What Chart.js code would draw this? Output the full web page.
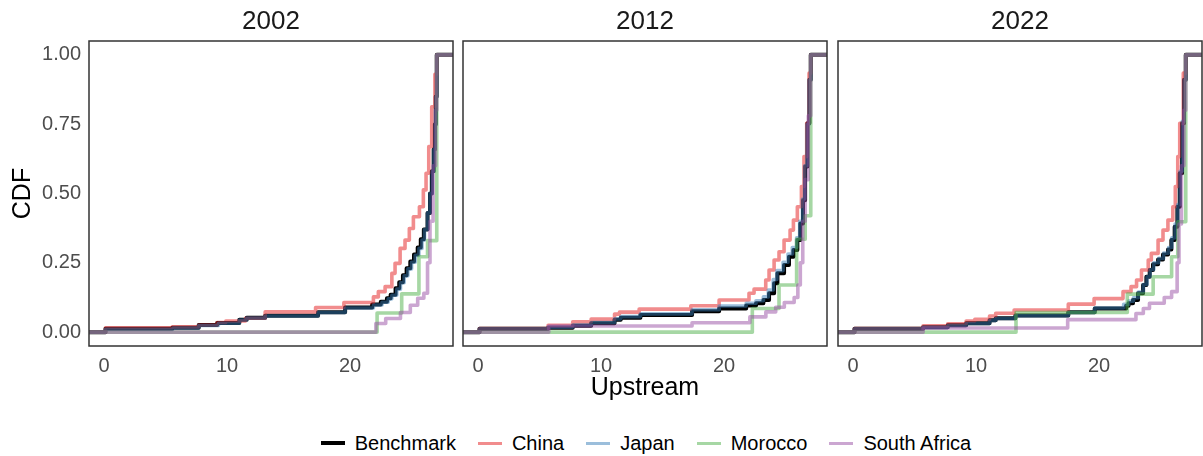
<!DOCTYPE html>
<html>
<head>
<meta charset="utf-8">
<title>Upstream CDF by year</title>
<script src="https://cdn.jsdelivr.net/npm/chart.js@4.4.1/dist/chart.umd.min.js"></script>
<style>
  html, body { margin: 0; padding: 0; background: #ffffff; }
  #wrap { position: relative; width: 1203px; height: 456px; overflow: hidden; }
  #wrap canvas { position: absolute; top: 0; }
  #legend {
    position: absolute; left: 89px; top: 429px; width: 1114px; height: 28px;
    display: flex; justify-content: center; align-items: center;
    font: 20px 'Liberation Sans', Arial, sans-serif; color: #000000;
  }
  .item { display: flex; align-items: center; margin: 0 11px; }
  .key { width: 24px; margin-right: 10px; }
</style>
</head>
<body>
<div id="wrap">
  <canvas id="panel2002" width="455" height="403" style="left:0px"></canvas>
  <canvas id="panel2012" width="368" height="403" style="left:461px"></canvas>
  <canvas id="panel2022" width="368" height="403" style="left:836px"></canvas>
  <div id="legend"></div>
</div>
<script>
// ---- data -------------------------------------------------------------
const YEARS = ['2002', '2012', '2022'];
const SERIES = ['Benchmark', 'China', 'Japan', 'Morocco', 'South Africa'];
const X_TICKS = [0, 10, 20];
const Y_TICKS = [0, 0.25, 0.5, 0.75, 1];
const Y_TICK_LABELS = ['0.00', '0.25', '0.50', '0.75', '1.00'];

// ECDF steps: [upstream value, cumulative share after the step]
const BENCHMARK_2002 = [[0.12,0.012],[5.55,0.016],[7.7,0.026],[9.2,0.033],[11.0,0.045],[11.6,0.052],[13.1,0.059],[17.4,0.072],[19.6,0.089],[21.8,0.100],[22.5,0.110],[23.0,0.122],[23.3,0.135],[23.7,0.158],[24.0,0.180],[24.3,0.205],[24.6,0.230],[24.9,0.255],[25.2,0.280],[25.5,0.305],[25.75,0.335],[26.0,0.37],[26.3,0.43],[26.5,0.50],[26.65,0.58],[26.8,0.66],[26.9,0.75],[26.97,0.85],[27.05,1.0]];
const CHINA_2002 = [[0.12,0.016],[5.55,0.019],[7.7,0.026],[9.2,0.035],[9.9,0.040],[11.5,0.050],[13.1,0.073],[17.2,0.089],[19.5,0.107],[21.9,0.127],[22.3,0.146],[22.85,0.164],[23.4,0.212],[23.66,0.248],[24.07,0.302],[24.47,0.332],[24.82,0.374],[25.15,0.416],[25.64,0.452],[25.96,0.513],[26.18,0.573],[26.4,0.669],[26.64,0.813],[26.9,0.93],[27.05,1.0]];
const JAPAN_2002 = [[0.12,0.010],[5.6,0.015],[7.7,0.024],[9.3,0.032],[11.0,0.044],[11.6,0.051],[13.1,0.058],[17.4,0.071],[19.6,0.087],[21.9,0.098],[22.6,0.108],[23.1,0.120],[23.4,0.133],[23.8,0.155],[24.1,0.178],[24.4,0.203],[24.7,0.228],[25.0,0.252],[25.3,0.277],[25.6,0.302],[25.85,0.332],[26.05,0.37],[26.3,0.43],[26.5,0.50],[26.68,0.58],[26.82,0.66],[26.92,0.75],[26.98,0.85],[27.05,1.0]];
const MOROCCO_2002 = [[22.2,0.069],[24.2,0.138],[25.6,0.272],[26.3,0.33],[27.05,1.0]];
const SOUTH_AFRICA_2002 = [[22.1,0.031],[22.9,0.049],[24.1,0.071],[24.9,0.097],[25.5,0.122],[26.0,0.14],[26.3,0.25],[26.5,0.40],[26.75,0.60],[26.95,0.80],[27.05,1.0]];

const BENCHMARK_2012 = [[0.12,0.012],[5.7,0.016],[7.7,0.023],[9.2,0.032],[11.1,0.045],[11.6,0.052],[13.2,0.062],[17.4,0.075],[19.6,0.085],[21.8,0.096],[22.6,0.104],[23.2,0.116],[23.66,0.14],[24.07,0.176],[24.34,0.212],[24.88,0.242],[25.28,0.272],[25.64,0.296],[25.96,0.332],[26.2,0.392],[26.42,0.476],[26.59,0.597],[26.78,0.753],[26.94,0.91],[27.05,1.0]];
const CHINA_2012 = [[0.12,0.013],[5.7,0.025],[7.7,0.037],[9.2,0.047],[11.1,0.065],[11.5,0.072],[13.1,0.083],[17.3,0.095],[19.6,0.116],[22.03,0.14],[22.44,0.155],[23.39,0.188],[23.66,0.224],[24.07,0.26],[24.47,0.29],[24.88,0.332],[25.37,0.368],[25.64,0.404],[25.96,0.452],[26.29,0.525],[26.5,0.633],[26.72,0.753],[26.91,0.934],[27.05,1.0]];
const JAPAN_2012 = [[0.12,0.012],[5.7,0.018],[7.7,0.026],[9.2,0.035],[11.1,0.048],[11.6,0.056],[13.2,0.066],[17.4,0.081],[19.6,0.094],[21.8,0.104],[22.6,0.113],[23.2,0.127],[23.6,0.152],[24.0,0.19],[24.3,0.222],[24.8,0.252],[25.2,0.282],[25.55,0.305],[25.9,0.34],[26.15,0.40],[26.38,0.48],[26.55,0.60],[26.75,0.75],[26.92,0.91],[27.05,1.0]];
const MOROCCO_2012 = [[22.3,0.085],[24.47,0.17],[25.9,0.335],[26.6,0.42],[27.05,1.0]];
const SOUTH_AFRICA_2012 = [[5.75,0.022],[17.4,0.034],[22.1,0.055],[23.4,0.073],[24.2,0.09],[24.9,0.107],[25.7,0.125],[26.0,0.17],[26.2,0.25],[26.4,0.40],[26.6,0.55],[26.85,0.78],[27.05,1.0]];

const BENCHMARK_2022 = [[0.12,0.012],[5.7,0.018],[7.7,0.025],[9.2,0.032],[11.1,0.043],[11.6,0.050],[13.2,0.060],[17.5,0.072],[19.65,0.085],[22.2,0.095],[22.4,0.104],[22.76,0.116],[23.17,0.14],[23.58,0.17],[23.85,0.20],[24.12,0.224],[24.39,0.245],[24.8,0.262],[25.2,0.28],[25.61,0.298],[25.88,0.332],[26.15,0.38],[26.37,0.452],[26.56,0.573],[26.75,0.753],[26.91,0.91],[27.05,1.0]];
const CHINA_2022 = [[0.12,0.013],[5.7,0.023],[7.7,0.030],[9.2,0.040],[9.9,0.046],[11.1,0.058],[11.6,0.068],[13.1,0.080],[17.5,0.101],[19.6,0.121],[21.95,0.146],[22.6,0.164],[23.05,0.188],[23.45,0.224],[24.0,0.26],[24.25,0.284],[24.8,0.332],[25.2,0.368],[25.6,0.404],[26.0,0.452],[26.2,0.525],[26.4,0.633],[26.56,0.753],[26.85,0.934],[27.05,1.0]];
const JAPAN_2022 = [[0.12,0.012],[5.7,0.017],[7.7,0.024],[9.2,0.031],[11.1,0.042],[11.6,0.049],[13.2,0.059],[17.5,0.071],[19.65,0.087],[22.0,0.100],[22.4,0.112],[22.8,0.124],[23.2,0.145],[23.6,0.172],[23.9,0.20],[24.15,0.226],[24.45,0.25],[24.85,0.266],[25.25,0.285],[25.65,0.305],[25.92,0.34],[26.18,0.39],[26.4,0.46],[26.58,0.58],[26.77,0.76],[26.92,0.91],[27.05,1.0]];
const MOROCCO_2022 = [[13.25,0.071],[22.3,0.137],[24.4,0.20],[25.9,0.272],[26.4,0.398],[27.05,1.0]];
const SOUTH_AFRICA_2022 = [[5.7,0.015],[17.45,0.045],[23.0,0.067],[23.6,0.085],[24.1,0.104],[25.3,0.125],[25.9,0.146],[26.35,0.25],[26.5,0.39],[26.7,0.60],[26.9,0.80],[27.05,1.0]];

const STEPS = {
  '2002': [BENCHMARK_2002, CHINA_2002, JAPAN_2002, MOROCCO_2002, SOUTH_AFRICA_2002],
  '2012': [BENCHMARK_2012, CHINA_2012, JAPAN_2012, MOROCCO_2012, SOUTH_AFRICA_2012],
  '2022': [BENCHMARK_2022, CHINA_2022, JAPAN_2022, MOROCCO_2022, SOUTH_AFRICA_2022]
};

// ---- styling ------------------------------------------------------------
const COLORS = ['#000000', 'rgba(228,26,28,0.5)', 'rgba(55,126,184,0.5)', 'rgba(77,175,74,0.5)', 'rgba(152,78,163,0.5)'];
const WIDTHS = [4, 3.6, 3.6, 3.6, 3.6];
const X_MIN = -1.22, X_MAX = 28.37;
const Y_MIN = -0.05, Y_MAX = 1.05;

Chart.defaults.font.family = "'Liberation Sans', Arial, sans-serif";

const panelBorder = {
  id: 'panelBorder',
  afterDatasetsDraw(chart) {
    const { ctx, chartArea: a } = chart;
    ctx.save();
    ctx.strokeStyle = '#333333';
    ctx.lineWidth = 1.5;
    ctx.strokeRect(a.left, a.top, a.right - a.left, a.bottom - a.top);
    ctx.restore();
  }
};

function makePanel(year, index) {
  const first = index === 0;
  const middle = index === 1;
  const steps = STEPS[year];
  new Chart(document.getElementById('panel' + year), {
    type: 'line',
    data: {
      datasets: SERIES.map((name, i) => ({
        label: name,
        // the ECDF runs from 0 on the far left to 1 on the far right
        data: [{ x: X_MIN - 1, y: 0 }]
          .concat(steps[i].map(([x, y]) => ({ x, y })))
          .concat([{ x: X_MAX + 1, y: 1 }]),
        borderColor: COLORS[i],
        borderWidth: WIDTHS[i],
        stepped: 'before',
        pointRadius: 0,
        fill: false,
        borderJoinStyle: 'round',
        borderCapStyle: 'butt',
        order: SERIES.length - i,
        clip: 0
      }))
    },
    options: {
      responsive: false,
      animation: false,
      events: [],
      layout: { autoPadding: false, padding: { left: first ? 0 : 2, right: 2, top: 0, bottom: 0 } },
      plugins: { legend: { display: false }, tooltip: { enabled: false } },
      scales: {
        x: {
          type: 'linear', min: X_MIN, max: X_MAX,
          afterBuildTicks: s => { s.ticks = X_TICKS.map(v => ({ value: v })); },
          ticks: { color: '#4D4D4D', font: { size: 20 }, padding: 8, maxRotation: 0, autoSkip: false, callback: v => String(v) },
          grid: { display: false, drawTicks: false },
          border: { display: false },
          title: { display: middle, text: 'Upstream', color: '#000000', font: { size: 25 }, padding: { top: 0, bottom: 0 } },
          afterFit: s => { s.height = 57; }
        },
        y: {
          type: 'linear', display: first, min: Y_MIN, max: Y_MAX,
          afterBuildTicks: s => { s.ticks = Y_TICKS.map(v => ({ value: v })); },
          ticks: { color: '#4D4D4D', font: { size: 20 }, padding: 8, callback: (v, i) => Y_TICK_LABELS[i] },
          grid: { display: false, drawTicks: false },
          border: { display: false },
          title: { display: true, text: 'CDF', color: '#000000', font: { size: 25 }, padding: { top: 8, bottom: 0 } },
          afterFit: s => { s.width = first ? 89 : 0; }
        },
        strip: {
          axis: 'x', type: 'linear', position: 'top',
          grid: { display: false, drawTicks: false },
          border: { display: false },
          ticks: { display: false },
          title: { display: true, text: year, color: '#1A1A1A', font: { size: 26 }, padding: { top: 6, bottom: 0 } },
          afterFit: s => { s.height = 41; }
        }
      }
    },
    plugins: [panelBorder]
  });
}

YEARS.forEach(makePanel);

// legend row
const legend = document.getElementById('legend');
SERIES.forEach((name, i) => {
  const item = document.createElement('div');
  item.className = 'item';
  const key = document.createElement('span');
  key.className = 'key';
  key.style.height = (i === 0 ? 4 : 3) + 'px';
  key.style.background = COLORS[i];
  const label = document.createElement('span');
  label.textContent = name;
  item.appendChild(key);
  item.appendChild(label);
  legend.appendChild(item);
});
</script>
</body>
</html>
